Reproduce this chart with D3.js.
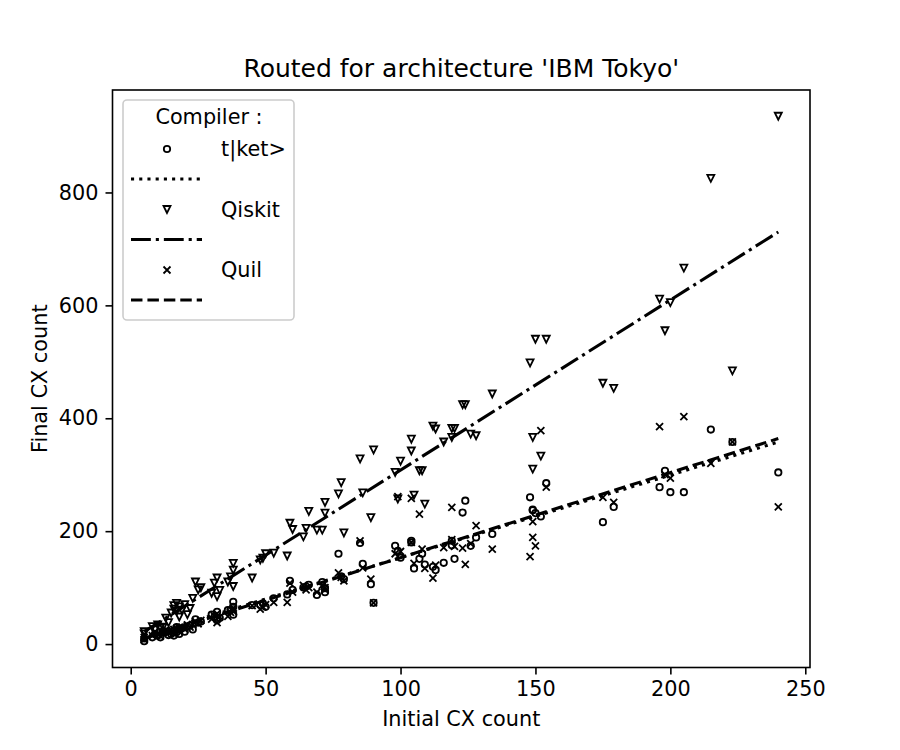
<!DOCTYPE html>
<html>
<meta charset="utf-8">
<head>
    <script src="https://cdnjs.cloudflare.com/ajax/libs/d3/7.8.5/d3.min.js"></script>
    <style>
        body { margin: 0; background: #fff; }
        text { font-family: "DejaVu Sans", sans-serif; fill: #000; }
    </style>
</head>
<body>
<script>
// one entry per circuit: initial CX count and the CX count after routing
const initialCx = [5, 5, 8, 9, 10, 11, 12, 13, 14, 15, 16, 16, 17, 17, 18, 18, 19, 20, 21, 22,
    23, 24, 25, 26, 30, 31, 32, 32, 33, 36, 37, 38, 38, 38, 45, 48, 49, 50, 53, 58,
    59, 60, 64, 65, 66, 69, 71, 72, 72, 77, 78, 79, 85, 86, 89, 90, 98, 99, 100, 104,
    104, 105, 107, 108, 109, 112, 113, 116, 119, 119, 120, 123, 124, 126, 128, 134, 148, 149, 149, 150,
    152, 154, 175, 179, 196, 198, 200, 205, 215, 223, 240];
const tketCx = [5, 10, 12, 18, 15, 12, 20, 22, 16, 18, 15, 24, 21, 30, 18, 26, 28, 22, 31, 33,
    26, 44, 38, 40, 52, 48, 57, 42, 46, 60, 60, 75, 52, 66, 69, 69, 72, 66, 81, 88,
    112, 96, 100, 102, 105, 87, 110, 99, 92, 160, 120, 115, 179, 142, 106, 73, 174, 165, 153, 183,
    180, 134, 151, 160, 141, 137, 131, 144, 183, 175, 151, 233, 254, 174, 189, 195, 260, 237, 238, 232,
    226, 285, 216, 243, 278, 307, 269, 269, 380, 358, 304];
const qiskitCx = [22, 18, 31, 25, 34, 28, 30, 46, 38, 55, 68, 62, 72, 58, 66, 48, 60, 70, 52, 63,
    81, 110, 96, 100, 90, 108, 117, 84, 95, 110, 119, 143, 131, 102, 117, 149, 152, 160, 161, 156,
    214, 203, 190, 205, 235, 202, 202, 232, 251, 266, 286, 197, 328, 268, 224, 344, 304, 257, 324, 363,
    342, 264, 307, 307, 248, 386, 381, 358, 366, 382, 382, 424, 424, 372, 369, 443, 498, 366, 310, 540,
    333, 540, 462, 453, 611, 555, 605, 666, 825, 484, 935];
const quilCx = [8, 12, 15, 20, 18, 14, 22, 25, 20, 22, 18, 26, 25, 28, 22, 30, 30, 26, 34, 30,
    35, 40, 36, 42, 44, 50, 54, 38, 48, 49, 56, 62, 58, 64, 68, 62, 66, 70, 74, 74,
    108, 92, 104, 96, 100, 92, 104, 96, 100, 126, 118, 112, 183, 135, 115, 73, 160, 261, 164, 180,
    258, 143, 230, 168, 134, 117, 140, 171, 185, 242, 173, 170, 141, 178, 210, 168, 155, 217, 189, 174,
    378, 278, 260, 251, 385, 300, 294, 403, 320, 358, 243];

// linear fits as drawn in the picture, evaluated at the ends of the x range
const fitX = [5, 240];
const tketFit = [14, 358];
const qiskitFit = [22, 730];
const quilFit = [10, 364];

const compilers = ["t|ket>", "Qiskit", "Quil"];
const xTicks = [0, 50, 100, 150, 200, 250];
const yTicks = [0, 200, 400, 600, 800];

const width = 900, height = 750;
const margin = { left: 112.5, right: 810, top: 90, bottom: 667.5 };
const fontSize = "20.8px";

const svg = d3.select("body").append("svg")
    .attr("width", width)
    .attr("height", height);
svg.append("rect").attr("width", width).attr("height", height).attr("fill", "#fff");

// matplotlib style 5% margins around the data
const allY = tketCx.concat(qiskitCx, quilCx);
const [x0, x1] = d3.extent(initialCx);
const [y0, y1] = d3.extent(allY);
const xm = (x1 - x0) * 0.05, ym = (y1 - y0) * 0.05;

const x = d3.scaleLinear().domain([x0 - xm, x1 + xm]).range([margin.left, margin.right]);
const y = d3.scaleLinear().domain([y0 - ym, y1 + ym]).range([margin.bottom, margin.top]);

// markers
const ms = 3.5;
const markerPath = {
    "v": `M0,${ms}L${-ms},${-ms}L${ms},${-ms}Z`,
    "x": `M${-ms},${-ms}L${ms},${ms}M${-ms},${ms}L${ms},${-ms}`
};

function drawMarker(g, type, px, py) {
    if (type === "o") {
        g.append("circle").attr("cx", px).attr("cy", py).attr("r", ms - 0.3)
            .attr("fill", "none").attr("stroke", "#000").attr("stroke-width", 1.8);
    } else {
        g.append("path").attr("transform", `translate(${px},${py})`)
            .attr("d", markerPath[type])
            .attr("fill", "none").attr("stroke", "#000").attr("stroke-width", 1.8);
    }
}

const lw = 3.1;
const series = [
    { name: compilers[0], values: tketCx, marker: "o", fit: tketFit, dash: `${lw},${lw * 1.65}` },
    { name: compilers[1], values: qiskitCx, marker: "v", fit: qiskitFit, dash: `${lw * 6.4},${lw * 1.6},${lw},${lw * 1.6}` },
    { name: compilers[2], values: quilCx, marker: "x", fit: quilFit, dash: `${lw * 3.7},${lw * 1.6}` }
];

const plot = svg.append("g");
const line = d3.line().x(d => x(d[0])).y(d => y(d[1]));

series.forEach(s => {
    const g = plot.append("g");
    initialCx.forEach((cx, i) => drawMarker(g, s.marker, x(cx), y(s.values[i])));
    plot.append("path")
        .datum(fitX.map((fx, i) => [fx, s.fit[i]]))
        .attr("d", line)
        .attr("fill", "none")
        .attr("stroke", "#000")
        .attr("stroke-width", lw)
        .attr("stroke-dasharray", s.dash);
});

// axes
const xAxis = d3.axisBottom(x).tickValues(xTicks).tickSize(7).tickPadding(7);
const yAxis = d3.axisLeft(y).tickValues(yTicks).tickSize(7).tickPadding(7);

const gx = svg.append("g").attr("transform", `translate(0,${margin.bottom})`).call(xAxis);
const gy = svg.append("g").attr("transform", `translate(${margin.left},0)`).call(yAxis);
[gx, gy].forEach(g => {
    g.select(".domain").remove();
    g.selectAll(".tick line").attr("stroke", "#000").attr("stroke-width", 1.6);
    g.selectAll(".tick text").attr("font-size", fontSize).attr("font-family", "DejaVu Sans");
});

svg.append("rect")
    .attr("x", margin.left).attr("y", margin.top)
    .attr("width", margin.right - margin.left).attr("height", margin.bottom - margin.top)
    .attr("fill", "none").attr("stroke", "#000").attr("stroke-width", 1.6);

// titles
svg.append("text")
    .attr("x", (margin.left + margin.right) / 2).attr("y", 77)
    .attr("text-anchor", "middle").attr("font-size", "25px")
    .text("Routed for architecture 'IBM Tokyo'");

svg.append("text")
    .attr("x", (margin.left + margin.right) / 2).attr("y", 726)
    .attr("text-anchor", "middle").attr("font-size", fontSize)
    .text("Initial CX count");

svg.append("text")
    .attr("transform", `translate(47,${(margin.top + margin.bottom) / 2}) rotate(-90)`)
    .attr("text-anchor", "middle").attr("font-size", fontSize)
    .text("Final CX count");

// legend
const legend = svg.append("g");
legend.append("rect")
    .attr("x", 123).attr("y", 100).attr("width", 171).attr("height", 220).attr("rx", 4)
    .attr("fill", "#fff").attr("fill-opacity", 0.8)
    .attr("stroke", "#ccc").attr("stroke-width", 1.6);
legend.append("text")
    .attr("x", 209).attr("y", 124)
    .attr("text-anchor", "middle").attr("font-size", fontSize)
    .text("Compiler :");

series.forEach((s, i) => {
    const rowY = 149 + i * 60.5;
    drawMarker(legend, s.marker, 167, rowY);
    legend.append("text")
        .attr("x", 221).attr("y", rowY).attr("dy", "0.35em")
        .attr("font-size", fontSize)
        .text(s.name);
    legend.append("line")
        .attr("x1", 131).attr("x2", 202)
        .attr("y1", rowY + 30).attr("y2", rowY + 30)
        .attr("stroke", "#000").attr("stroke-width", lw)
        .attr("stroke-dasharray", s.dash);
});
</script>
</body>
</html>
